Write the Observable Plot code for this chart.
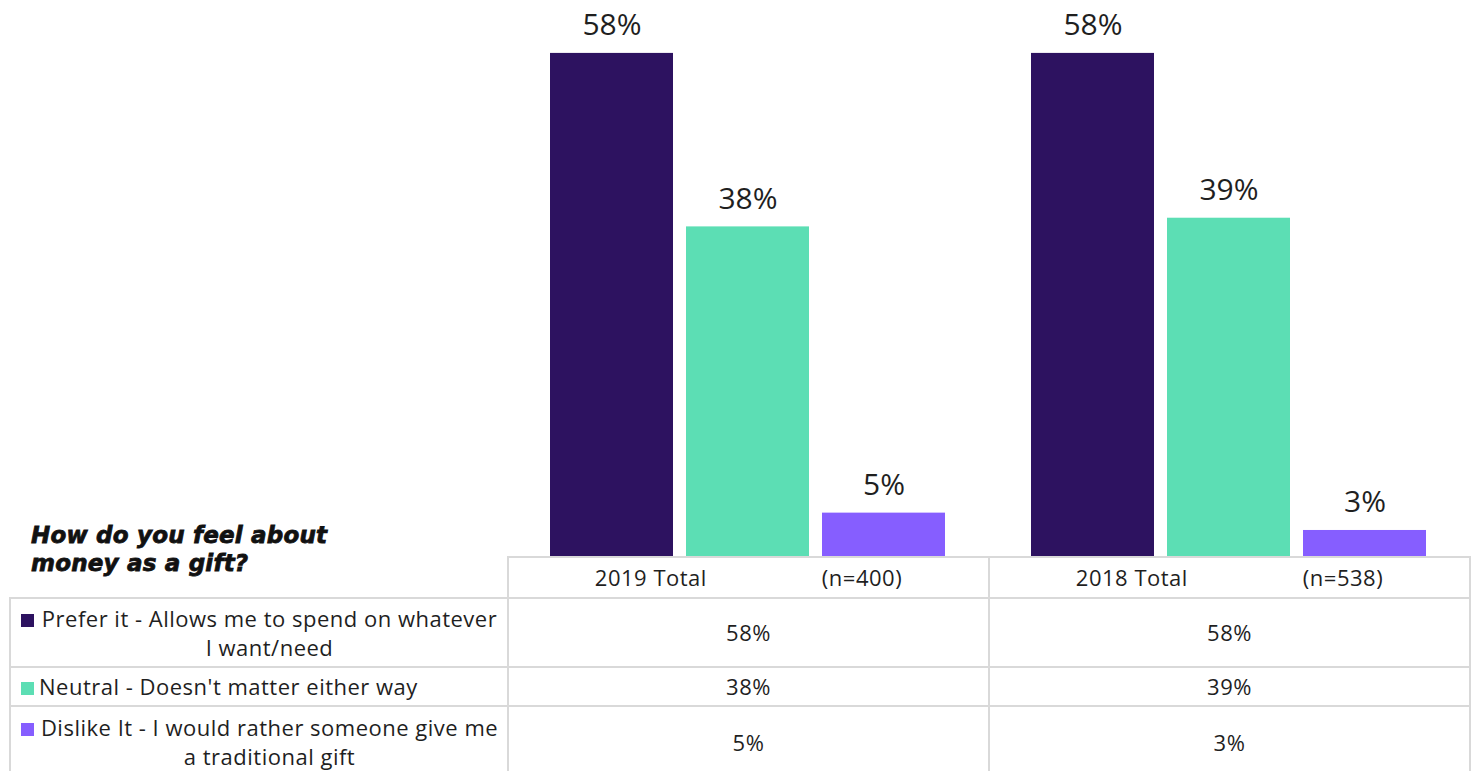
<!DOCTYPE html>
<html><head><meta charset="utf-8">
<script src="https://cdn.jsdelivr.net/npm/d3@7"></script>
<script src="https://cdn.jsdelivr.net/npm/@observablehq/plot@0.6"></script>
<style>
body{margin:0;background:#fff;font-family:"Open Sans", Lato, sans-serif;color:#1f1f1f;}
#wrap{position:relative;width:1473px;height:771px;overflow:hidden;}
#chart svg{display:block;}
#title{position:absolute;left:31px;top:521px;font-family:"DejaVu Sans", sans-serif;font-weight:bold;font-style:oblique;font-size:23px;line-height:28px;color:#111;-webkit-text-stroke:0.8px #111;letter-spacing:0.2px;}
#tbl{position:absolute;left:9px;top:556px;border-collapse:collapse;table-layout:fixed;font-size:22px;line-height:29px;letter-spacing:0.5px;}
#tbl td{border:2px solid #d9d9d9;text-align:center;vertical-align:middle;padding:0 7px;}
#tbl td.blank{border-top:none;border-left:none;}
#tbl td.lab{padding:0 7px 0 10px;}
.labwrap{display:flex;align-items:flex-start;}
.labwrap span.txt{text-align:center;}
.hdr{display:flex;justify-content:center;gap:115px;}
.sw{flex:none;display:block;width:13px;height:13px;margin:10px 5px 0 0;}
</style></head>
<body>
<div id="wrap">
  <div id="chart"></div>
  <div id="title">How do you feel about<br>money as a gift?</div>
  <table id="tbl"></table>
</div>
<script>
const groups = ["2019 Total", "2018 Total"];
const sampleSizes = ["(n=400)", "(n=538)"];
const series = [
  "Prefer it - Allows me to spend on whatever I want/need",
  "Neutral - Doesn't matter either way",
  "Dislike It - I would rather someone give me a traditional gift"
];
const colors = ["#2D1260", "#5CDEB4", "#865EFF"];
const values2019 = [58, 38, 5];
const values2018 = [58, 39, 3];

const valuesByGroup = [values2019, values2018];
const data = [];
groups.forEach((g, gi) => series.forEach((s, si) => data.push({group: g, series: s, value: valuesByGroup[gi][si]})));

const chart = Plot.plot({
  width: 1473, height: 557,
  marginLeft: 507, marginRight: 4, marginTop: 0, marginBottom: 1,
  fx: {domain: groups, padding: 0, axis: null},
  x: {domain: series, paddingInner: 0.095, paddingOuter: 0.303, axis: null},
  y: {domain: [0, 64.1], axis: null},
  color: {domain: series, range: colors},
  marks: [
    Plot.barY(data, {fx: "group", x: "series", y: "value", fill: "series"}),
    Plot.text(data, {fx: "group", x: "series", y: "value", text: d => d.value + "%",
      lineAnchor: "bottom", dy: -18, fontSize: 30, fill: "#1f1f1f", fontFamily: "Open Sans",
      style: "letter-spacing:1px"})
  ]
});
document.getElementById("chart").appendChild(chart);

// data table
const tbl = document.getElementById("tbl");
const cg = document.createElement("colgroup");
[498, 481, 481].forEach(w => { const c = document.createElement("col"); c.style.width = w + "px"; cg.appendChild(c); });
tbl.appendChild(cg);
const hr = document.createElement("tr");
hr.style.height = "41px";
const blank = document.createElement("td"); blank.className = "blank"; hr.appendChild(blank);
groups.forEach((g, gi) => {
  const td = document.createElement("td");
  const d = document.createElement("div"); d.className = "hdr";
  const a = document.createElement("span"); a.textContent = g;
  const b = document.createElement("span"); b.textContent = sampleSizes[gi];
  d.appendChild(a); d.appendChild(b); td.appendChild(d); hr.appendChild(td);
});
tbl.appendChild(hr);
const rowHeights = [69, 39, 72];
series.forEach((s, si) => {
  const tr = document.createElement("tr");
  tr.style.height = rowHeights[si] + "px";
  const th = document.createElement("td"); th.className = "lab";
  const wrap = document.createElement("div"); wrap.className = "labwrap";
  const sw = document.createElement("span"); sw.className = "sw"; sw.style.background = colors[si];
  const tx = document.createElement("span"); tx.className = "txt"; tx.textContent = s;
  wrap.appendChild(sw); wrap.appendChild(tx); th.appendChild(wrap);
  tr.appendChild(th);
  valuesByGroup.forEach(vals => {
    const td = document.createElement("td"); td.textContent = vals[si] + "%"; tr.appendChild(td);
  });
  tbl.appendChild(tr);
});
</script>
</body></html>
